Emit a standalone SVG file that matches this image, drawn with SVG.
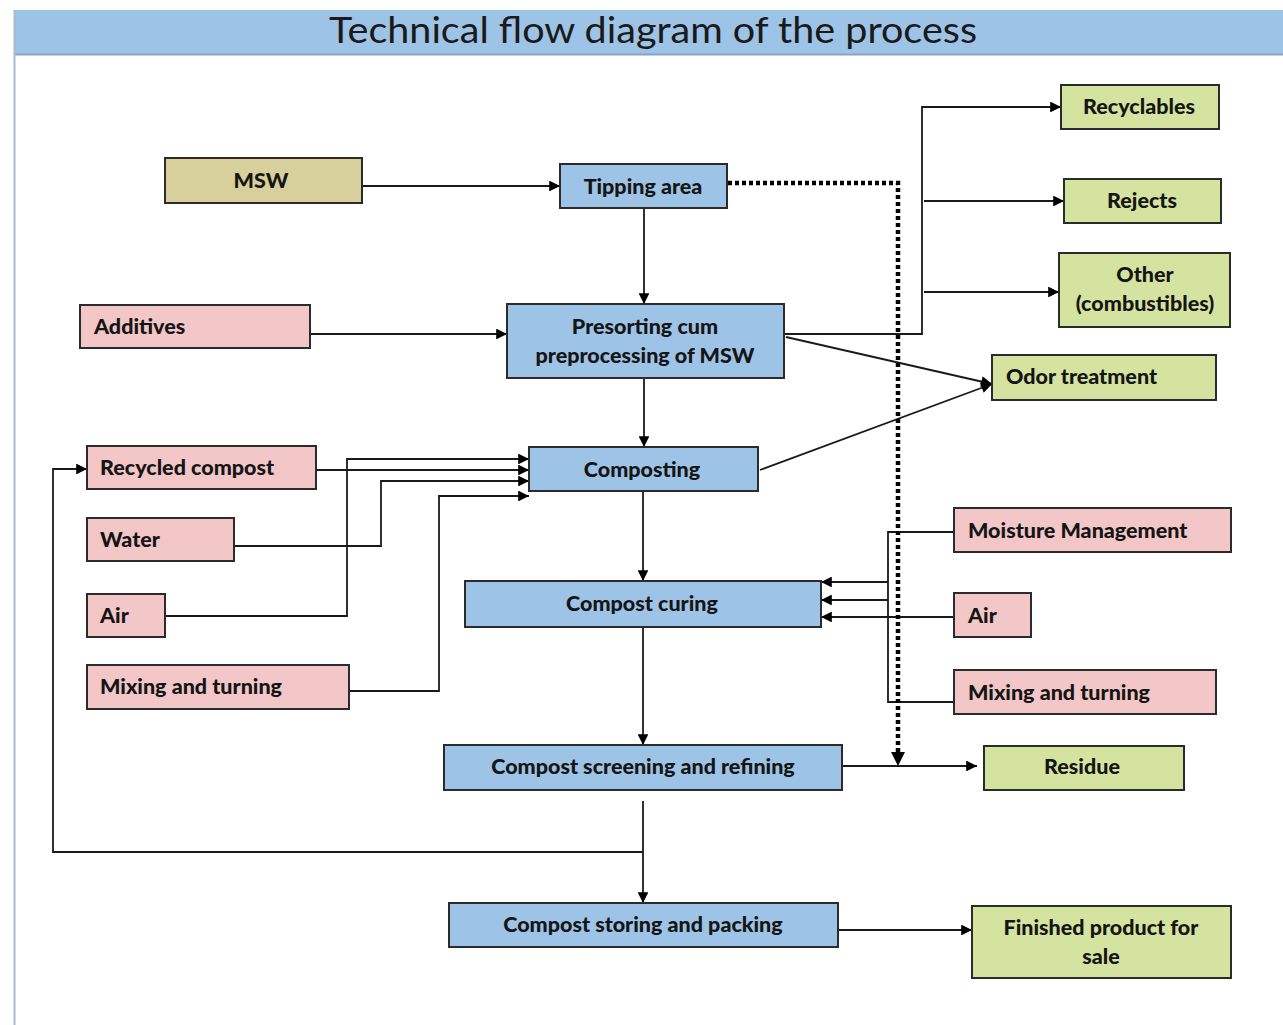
<svg xmlns="http://www.w3.org/2000/svg" width="1283" height="1025" viewBox="0 0 1283 1025">
  <style>
    .box { stroke: #2b2b2b; stroke-width: 2; }
    .blue { fill: #9dc3e6; }
    .pink { fill: #f3c6c7; }
    .green { fill: #d5e3a0; }
    .khaki { fill: #d7d09d; }
    .lbl { font-family: Lato, "Open Sans", "Liberation Sans", sans-serif; font-weight: 900; font-size: 21.5px; fill: #151515; }
    .mid { text-anchor: middle; }
    .wire { fill: none; stroke: #1a1a1a; stroke-width: 1.8; }
    .dots { fill: none; stroke: #000; stroke-width: 4.5; stroke-dasharray: 4 3; }
  </style>
  <defs>
    <marker id="arrow" viewBox="0 0 10 10" refX="10" refY="5" markerWidth="7.5" markerHeight="6" markerUnits="strokeWidth" orient="auto">
      <path d="M0,0 L10,5 L0,10 z" fill="#000"/>
    </marker>
  </defs>

  <rect width="1283" height="1025" fill="#ffffff"/>

  <!-- title bar and frame -->
  <g id="title">
    <rect x="14" y="10" width="1269" height="44" fill="#9dc3e6"/>
    <line x1="14" y1="54.5" x2="1283" y2="54.5" stroke="#8aa3c4" stroke-width="2"/>
    <line x1="14.5" y1="10" x2="14.5" y2="1025" stroke="#a9bad0" stroke-width="2"/>
    <text x="653" y="43" text-anchor="middle" font-family="Lato, 'Open Sans', sans-serif" font-size="37" fill="#1a1a1a" textLength="648" lengthAdjust="spacingAndGlyphs">Technical flow diagram of the process</text>
  </g>

  <!-- connectors -->
  <g id="connectors">
    <!-- main chain -->
    <path class="wire" d="M362,186 H560" marker-end="url(#arrow)"/>
    <path class="wire" d="M644,208 V304" marker-end="url(#arrow)"/>
    <path class="wire" d="M310,334 H507" marker-end="url(#arrow)"/>
    <path class="wire" d="M644,378 V447" marker-end="url(#arrow)"/>
    <path class="wire" d="M643,491 V581" marker-end="url(#arrow)"/>
    <path class="wire" d="M643,627 V745" marker-end="url(#arrow)"/>
    <path class="wire" d="M643,801 V903" marker-end="url(#arrow)"/>
    <path class="wire" d="M838,930 H972" marker-end="url(#arrow)"/>
    <path class="wire" d="M842,766 H977" marker-end="url(#arrow)"/>

    <!-- sorted fractions -->
    <path class="wire" d="M784,334 H922 V107 H1061" marker-end="url(#arrow)"/>
    <path class="wire" d="M924,201 H1064" marker-end="url(#arrow)"/>
    <path class="wire" d="M924,292 H1059" marker-end="url(#arrow)"/>

    <!-- odour streams -->
    <path class="wire" d="M786,337 L992,384" marker-end="url(#arrow)"/>
    <path class="wire" d="M760,470 L992,384" marker-end="url(#arrow)"/>

    <!-- composting inputs -->
    <path class="wire" d="M165,616 H347 V459 H529" marker-end="url(#arrow)"/>
    <path class="wire" d="M316,470 H529" marker-end="url(#arrow)"/>
    <path class="wire" d="M234,546 H381 V481 H529" marker-end="url(#arrow)"/>
    <path class="wire" d="M349,691 H439 V496 H529" marker-end="url(#arrow)"/>

    <!-- curing inputs -->
    <path class="wire" d="M954,532 H888 V702 H954"/>
    <path class="wire" d="M888,582 H821" marker-end="url(#arrow)"/>
    <path class="wire" d="M888,600 H821" marker-end="url(#arrow)"/>
    <path class="wire" d="M954,617 H821" marker-end="url(#arrow)"/>

    <!-- recycled compost loop -->
    <path class="wire" d="M643,852 H53 V469 H87" marker-end="url(#arrow)"/>

    <!-- dotted bypass from tipping area -->
    <path class="dots" d="M728,183 H898 V753"/>
    <path d="M891,752 L905,752 L898,766 z" fill="#000"/>
  </g>

  <!-- nodes -->
  <g id="msw"><rect class="box khaki" x="165" y="158" width="197" height="45"/><text class="lbl mid" x="261" y="188">MSW</text></g>
  <g id="tipping-area"><rect class="box blue" x="560" y="164" width="167" height="44"/><text class="lbl mid" x="643" y="194">Tipping area</text></g>
  <g id="additives"><rect class="box pink" x="80" y="305" width="230" height="43"/><text class="lbl" x="94" y="334">Additives</text></g>
  <g id="presorting"><rect class="box blue" x="507" y="304" width="277" height="74"/><text class="lbl mid" x="645" y="334">Presorting cum</text><text class="lbl mid" x="645" y="363">preprocessing of MSW</text></g>
  <g id="recycled-compost"><rect class="box pink" x="87" y="446" width="229" height="43"/><text class="lbl" x="100" y="475">Recycled compost</text></g>
  <g id="composting"><rect class="box blue" x="529" y="447" width="229" height="44"/><text class="lbl mid" x="642" y="477">Composting</text></g>
  <g id="water"><rect class="box pink" x="87" y="518" width="147" height="43"/><text class="lbl" x="100" y="547">Water</text></g>
  <g id="air-left"><rect class="box pink" x="87" y="594" width="78" height="43"/><text class="lbl" x="100" y="623">Air</text></g>
  <g id="mixing-left"><rect class="box pink" x="87" y="665" width="262" height="44"/><text class="lbl" x="100" y="694">Mixing and turning</text></g>
  <g id="compost-curing"><rect class="box blue" x="465" y="581" width="356" height="46"/><text class="lbl mid" x="642" y="611">Compost curing</text></g>
  <g id="moisture"><rect class="box pink" x="954" y="508" width="277" height="44"/><text class="lbl" x="968" y="538">Moisture Management</text></g>
  <g id="air-right"><rect class="box pink" x="954" y="593" width="77" height="44"/><text class="lbl" x="968" y="623">Air</text></g>
  <g id="mixing-right"><rect class="box pink" x="954" y="670" width="262" height="44"/><text class="lbl" x="968" y="700">Mixing and turning</text></g>
  <g id="screening"><rect class="box blue" x="444" y="745" width="398" height="45"/><text class="lbl mid" x="643" y="774">Compost screening and refining</text></g>
  <g id="residue"><rect class="box green" x="984" y="746" width="200" height="44"/><text class="lbl mid" x="1082" y="774">Residue</text></g>
  <g id="storing"><rect class="box blue" x="449" y="903" width="389" height="44"/><text class="lbl mid" x="643" y="932">Compost storing and packing</text></g>
  <g id="finished-product"><rect class="box green" x="972" y="906" width="259" height="72"/><text class="lbl mid" x="1101" y="935">Finished product for</text><text class="lbl mid" x="1101" y="964">sale</text></g>
  <g id="recyclables"><rect class="box green" x="1061" y="85" width="158" height="44"/><text class="lbl mid" x="1139" y="114">Recyclables</text></g>
  <g id="rejects"><rect class="box green" x="1064" y="179" width="157" height="44"/><text class="lbl mid" x="1142" y="208">Rejects</text></g>
  <g id="other"><rect class="box green" x="1059" y="253" width="171" height="74"/><text class="lbl mid" x="1145" y="282">Other</text><text class="lbl mid" x="1145" y="311">(combustibles)</text></g>
  <g id="odor-treatment"><rect class="box green" x="992" y="355" width="224" height="45"/><text class="lbl" x="1006" y="384">Odor treatment</text></g>
</svg>
